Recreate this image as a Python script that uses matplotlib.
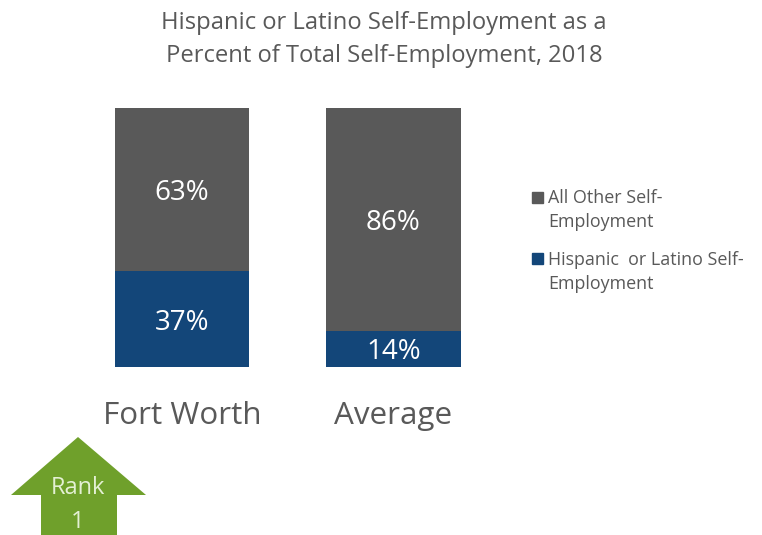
import matplotlib
matplotlib.use('Agg')
import matplotlib.pyplot as plt
from matplotlib.patches import Polygon

plt.rcParams['font.family'] = ['Open Sans', 'DejaVu Sans']

categories = ['Fort Worth', 'Average']
hispanic = [37, 14]
other = [63, 86]
series_names = ['All Other Self-\nEmployment', 'Hispanic  or Latino Self-\nEmployment']
title = 'Hispanic or Latino Self-Employment as a\nPercent of Total Self-Employment, 2018'
rank_label = 'Rank\n1'

dark_grey = '#595959'
blue = '#134679'
text_grey = '#595959'
green = '#6fa02b'

W, H = 762, 535
fig = plt.figure(figsize=(W / 100, H / 100), dpi=100)

# axes box lines up with bar tops and baseline in pixels
ax = fig.add_axes([0, (H - 367) / H, 1, (367 - 108) / H])
ax.set_xlim(0, W)
ax.set_ylim(0, 100)
ax.axis('off')

centers = [182, 393.4]
bar_w = 134.5
for i in range(2):
    ax.bar(centers[i], hispanic[i], width=bar_w, color=blue)
    ax.bar(centers[i], other[i], bottom=hispanic[i], width=bar_w, color=dark_grey)
    ax.text(centers[i], hispanic[i] / 2, f'{hispanic[i]}%', color='white', fontsize=20,
            ha='center', va='center_baseline')
    ax.text(centers[i], hispanic[i] + other[i] / 2, f'{other[i]}%', color='white', fontsize=20,
            ha='center', va='center_baseline')
    fig.text(centers[i] / W, 1 - 412.5 / H, categories[i], color=text_grey, fontsize=22.6,
             ha='center', va='center_baseline')

fig.text(384 / W, 1 - 39.5 / H, title, color=text_grey, fontsize=17.1, ha='center', va='center',
         linespacing=1.54)

# legend
for y, col, name in [(197.5, dark_grey, series_names[0]), (258.5, blue, series_names[1])]:
    fig.patches.append(plt.Rectangle((531.5 / W, 1 - (y + 5.5) / H), 11 / W, 11 / H, color=col,
                                     transform=fig.transFigure))
for y, name in [(210, series_names[0]), (272, series_names[1])]:
    fig.text(548 / W, 1 - y / H, name, color=text_grey, fontsize=12.9, ha='left',
             va='center', linespacing=1.47)

# rank arrow
arrow_px = [(78, 437), (146, 495), (117, 495), (117, 535), (41, 535), (41, 495), (11, 495)]
arrow = Polygon([(x / W, 1 - y / H) for x, y in arrow_px], closed=True, facecolor=green,
                edgecolor='none', transform=fig.transFigure)
fig.patches.append(arrow)
fig.text(78 / W, 1 - 505 / H, rank_label, color='#e4f0d4', fontsize=17, ha='center', va='center',
         linespacing=1.5)

fig.savefig('out.png', dpi=100)
